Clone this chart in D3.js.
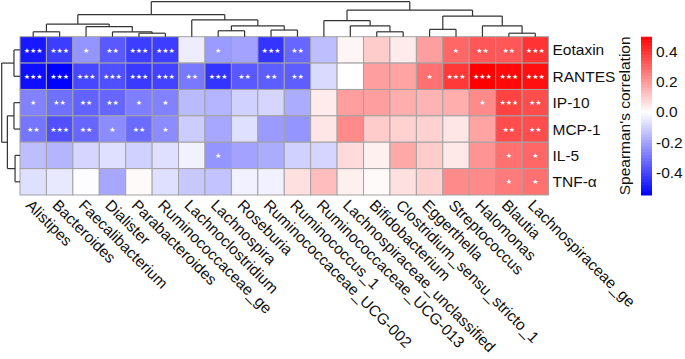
<!DOCTYPE html>
<html lang="en">
    <head>
        <meta charset="utf-8">
        <title>Spearman heatmap</title>
        <script src="https://d3js.org/d3.v7.min.js"></script>
        <style type="text/css">
            body {
                margin: 0;
                background: #fff;
                font-family: "Liberation Sans", Arial, sans-serif;
            }
        </style>
    </head>
    <body>
        <script>
        const width = 685;
        const height = 359;

        // cytokines (rows) and genera (columns), in dendrogram order
        const rows = ["Eotaxin", "RANTES", "IP-10", "MCP-1", "IL-5", "TNF-α"];
        const cols = ["Alistipes", "Bacteroides", "Faecalibacterium", "Dialister", "Parabacteroides",
            "Ruminococcaceae_ge", "Lachnoclostridium", "Lachnospira", "Roseburia", "Ruminococcaceae_UCG-002",
            "Ruminococcus_1", "Ruminococcaceae_UCG-013", "Lachnospiraceae_unclassified", "Bifidobacterium",
            "Clostridium_sensu_stricto_1", "Eggerthella", "Streptococcus", "Halomonas", "Blautia", "Lachnospiraceae_ge"];

        // correlation values, one array per row
        const eotaxin = [-0.50, -0.42, -0.23, -0.36, -0.42, -0.42, -0.04, -0.22, -0.20, -0.44, -0.33, -0.14, 0.02, 0.10, 0.04, 0.19, 0.30, 0.33, 0.33, 0.40];
        const rantes  = [-0.52, -0.55, -0.40, -0.38, -0.43, -0.41, -0.29, -0.44, -0.36, -0.35, -0.35, -0.08, 0.00, 0.19, 0.18, 0.28, 0.39, 0.50, 0.48, 0.47];
        const ip10    = [-0.27, -0.31, -0.34, -0.33, -0.28, -0.27, -0.15, -0.16, -0.10, -0.09, -0.18, 0.04, 0.19, 0.19, 0.16, 0.15, 0.16, 0.23, 0.37, 0.35];
        const mcp1    = [-0.30, -0.38, -0.33, -0.25, -0.32, -0.25, -0.11, -0.19, -0.07, -0.22, -0.23, 0.05, 0.23, 0.10, 0.09, 0.09, 0.05, 0.18, 0.35, 0.35];
        const il5     = [-0.14, -0.16, -0.09, -0.07, -0.10, -0.07, -0.03, -0.23, -0.20, -0.18, -0.10, -0.09, 0.07, 0.03, 0.17, 0.10, 0.045, 0.21, 0.28, 0.30];
        const tnfa    = [-0.07, -0.05, -0.005, -0.19, 0.01, -0.07, -0.12, -0.13, -0.03, -0.03, 0.06, 0.13, 0.03, 0.01, 0.06, 0.09, 0.23, 0.23, 0.26, 0.28];
        const values = [eotaxin, rantes, ip10, mcp1, il5, tnfa];

        // significance marks
        const sig = [
            ["***","***","*","**","***","***","","*","","***","**","","","","","","*","**","**","***"],
            ["***","***","***","***","***","***","**","***","**","**","**","","","","","*","***","***","***","***"],
            ["*","**","**","**","*","*","","","","","","","","","","","","*","***","**"],
            ["**","***","**","*","**","*","","","","","","","","","","","","","**","**"],
            ["","","","","","","","*","","","","","","","","","","","*","*"],
            ["","","","","","","","","","","","","","","","","","","*","*"]
        ];

        // dendrograms: h = merge height, c = children (numbers are leaf indices)
        const colTree = {h: 1.0, c: [
            {h: 0.63, c: [
                {h: 0.36, c: [{h: 0.14, c: [0, 1]}, {h: 0.29, c: [2, {h: 0.14, c: [3, {h: 0.10, c: [4, 5]}]}]}]},
                {h: 0.48, c: [6, {h: 0.31, c: [{h: 0.17, c: [7, 8]}, {h: 0.19, c: [9, 10]}]}]}
            ]},
            {h: 0.76, c: [
                {h: 0.46, c: [11, {h: 0.31, c: [12, {h: 0.14, c: [13, 14]}]}]},
                {h: 0.59, c: [{h: 0.21, c: [15, 16]}, {h: 0.31, c: [17, {h: 0.10, c: [18, 19]}]}]}
            ]}
        ]};
        const rowTree = {h: 1.0, c: [{h: 0.33, c: [0, 1]}, {h: 0.69, c: [{h: 0.33, c: [2, 3]}, {h: 0.27, c: [4, 5]}]}]};

        const colorDomain = [-0.553, 0, 0.5];
        const colorTicks = ["0.4", "0.2", "0.0", "-0.2", "-0.4"];

        const hm = {left: 20, right: 548.5, top: 36.7, bottom: 195};

        const svg = d3.select("body").append("svg")
            .attr("width", width)
            .attr("height", height);

        const x = d3.scaleBand().domain(d3.range(cols.length)).range([hm.left, hm.right]);
        const y = d3.scaleBand().domain(d3.range(rows.length)).range([hm.top, hm.bottom]);
        const color = d3.scaleLinear().domain(colorDomain).range(["#0000ff", "#ffffff", "#ff0000"]).clamp(true);

        // cells
        const cells = [];
        values.forEach((row, i) => row.forEach((v, j) => cells.push({i, j, v, s: sig[i][j]})));

        svg.append("g").selectAll("rect")
            .data(cells)
            .enter()
            .append("rect")
            .attr("x", d => x(d.j))
            .attr("y", d => y(d.i))
            .attr("width", x.bandwidth())
            .attr("height", y.bandwidth())
            .attr("fill", d => color(d.v))
            .attr("stroke", "#a3a3a3")
            .attr("stroke-width", 1);

        svg.append("g").selectAll("text")
            .data(cells.filter(d => d.s))
            .enter()
            .append("text")
            .attr("x", d => x(d.j) + x.bandwidth() / 2)
            .attr("y", d => y(d.i) + y.bandwidth() / 2)
            .attr("dy", "0.38em")
            .attr("text-anchor", "middle")
            .attr("fill", "#fff")
            .style("font-family", "DejaVu Sans")
            .style("font-size", "7px")
            .text(d => d.s.replace(/\*/g, "★"));

        // dendrograms
        const dend = svg.append("g")
            .attr("fill", "none")
            .attr("stroke", "#333")
            .attr("stroke-width", 1.2);

        const hTop = d3.scaleLinear().domain([0, 1]).range([hm.top, 1.7]);
        const hLeft = d3.scaleLinear().domain([0, 1]).range([hm.left, 1.7]);

        function drawTree(node, leafPos, hScale, vertical) {
            if (typeof node === "number") return {p: leafPos(node), h: 0};
            const kids = node.c.map(k => drawTree(k, leafPos, hScale, vertical));
            const hp = hScale(node.h);
            kids.forEach(k => {
                const path = vertical
                    ? `M${k.p},${hScale(k.h)}V${hp}`
                    : `M${hScale(k.h)},${k.p}H${hp}`;
                dend.append("path").attr("d", path);
            });
            const ps = kids.map(k => k.p);
            dend.append("path").attr("d", vertical
                ? `M${d3.min(ps)},${hp}H${d3.max(ps)}`
                : `M${hp},${d3.min(ps)}V${d3.max(ps)}`);
            return {p: d3.mean(ps), h: node.h};
        }
        drawTree(colTree, j => x(j) + x.bandwidth() / 2, hTop, true);
        drawTree(rowTree, i => y(i) + y.bandwidth() / 2, hLeft, false);

        // row labels
        svg.append("g").selectAll("text")
            .data(rows)
            .enter()
            .append("text")
            .attr("x", hm.right + 4)
            .attr("y", (d, i) => y(i) + y.bandwidth() / 2)
            .attr("dy", "0.36em")
            .attr("fill", "#111")
            .style("font-size", "15.5px")
            .text(d => d);

        // column labels, rotated
        svg.append("g").selectAll("text")
            .data(cols)
            .enter()
            .append("text")
            .attr("transform", (d, j) => `translate(${x(j) + x.bandwidth() / 2},${hm.bottom + 3}) rotate(45)`)
            .attr("dy", "0.75em")
            .attr("fill", "#111")
            .style("font-size", "15.5px")
            .text(d => d);

        // colour legend
        const legend = {x: 641, w: 11};
        const ly = d3.scaleLinear().domain([colorDomain[0], colorDomain[2]]).range([hm.bottom, hm.top]);
        const steps = d3.range(colorDomain[0], colorDomain[2], 0.01);
        svg.append("g").selectAll("rect")
            .data(steps)
            .enter()
            .append("rect")
            .attr("x", legend.x)
            .attr("y", d => ly(Math.min(d + 0.01, colorDomain[2])))
            .attr("width", legend.w)
            .attr("height", d => ly(d) - ly(Math.min(d + 0.01, colorDomain[2])) + 0.5)
            .attr("fill", d => color(d + 0.005));

        svg.append("g").selectAll("text")
            .data(colorTicks)
            .enter()
            .append("text")
            .attr("x", legend.x + legend.w + 4)
            .attr("y", d => ly(+d))
            .attr("dy", "0.36em")
            .attr("fill", "#111")
            .style("font-size", "15.5px")
            .text(d => d);

        svg.append("text")
            .attr("transform", `translate(630,${(hm.top + hm.bottom) / 2}) rotate(-90)`)
            .attr("text-anchor", "middle")
            .attr("fill", "#111")
            .style("font-size", "15.5px")
            .text("Spearman's correlation");
        </script>
    </body>
</html>
